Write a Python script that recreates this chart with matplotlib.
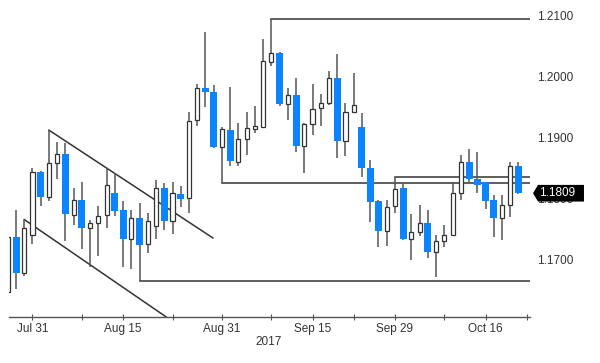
import numpy as np
import pandas as pd
import matplotlib
matplotlib.use('Agg')
import matplotlib.pyplot as plt
from matplotlib import font_manager
from matplotlib.patches import Polygon
from matplotlib.transforms import blended_transform_factory

# font: narrow sans if we have it
names = {f.name for f in font_manager.fontManager.ttflist}
font = 'Liberation Sans Narrow' if 'Liberation Sans Narrow' in names else 'Liberation Sans'
plt.rcParams['font.family'] = font

# ------------------------------------------------------------------------- #
# daily EUR/USD candles, 26 Jul - 20 Oct 2017
days = pd.bdate_range('2017-07-26', '2017-10-23')

opens = [1.1648, 1.1738, 1.1679, 1.1741, 1.1844, 1.1803, 1.1858, 1.1873, 1.1773, 1.1798,
         1.1753, 1.1760, 1.1773, 1.1809, 1.1782, 1.1735, 1.1768, 1.1726, 1.1756, 1.1817,
         1.1763, 1.1808, 1.1801, 1.1929, 1.1980, 1.1975, 1.1885, 1.1913, 1.1860, 1.1898,
         1.1914, 1.1917, 1.2024, 1.2038, 1.1955, 1.1969, 1.1886, 1.1922, 1.1948, 1.1956,
         1.1997, 1.1894, 1.1942, 1.1917, 1.1850, 1.1796, 1.1747, 1.1788, 1.1818, 1.1734,
         1.1746, 1.1760, 1.1713, 1.1731, 1.1741, 1.1810, 1.1860, 1.1832, 1.1828, 1.1798,
         1.1768, 1.1789, 1.1854]
highs = [1.1745, 1.1782, 1.1766, 1.1850, 1.1846, 1.1912, 1.1893, 1.1891, 1.1817, 1.1828,
         1.1766, 1.1788, 1.1850, 1.1842, 1.1796, 1.1782, 1.1793, 1.1776, 1.1831, 1.1826,
         1.1827, 1.1820, 1.1942, 1.1987, 1.2072, 1.1985, 1.1917, 1.1983, 1.1923, 1.1942,
         1.1952, 1.2061, 1.2093, 1.2040, 1.1980, 1.1997, 1.1923, 1.1988, 1.1971, 1.2009,
         1.2036, 1.1957, 1.2006, 1.1940, 1.1864, 1.1798, 1.1798, 1.1835, 1.1824, 1.1775,
         1.1789, 1.1782, 1.1741, 1.1757, 1.1827, 1.1871, 1.1882, 1.1877, 1.1828, 1.1806,
         1.1806, 1.1860, 1.1860]
lows = [1.1640, 1.1653, 1.1674, 1.1726, 1.1788, 1.1797, 1.1833, 1.1731, 1.1757, 1.1718,
        1.1689, 1.1707, 1.1752, 1.1772, 1.1689, 1.1685, 1.1665, 1.1712, 1.1734, 1.1749,
        1.1742, 1.1786, 1.1777, 1.1919, 1.1949, 1.1883, 1.1825, 1.1853, 1.1854, 1.1871,
        1.1907, 1.1915, 1.2017, 1.1951, 1.1929, 1.1877, 1.1842, 1.1904, 1.1918, 1.1953,
        1.1866, 1.1869, 1.1940, 1.1835, 1.1762, 1.1721, 1.1723, 1.1776, 1.1732, 1.1700,
        1.1739, 1.1703, 1.1673, 1.1721, 1.1739, 1.1798, 1.1828, 1.1809, 1.1783, 1.1738,
        1.1733, 1.1771, 1.1808]
closes = [1.1738, 1.1678, 1.1753, 1.1844, 1.1803, 1.1858, 1.1873, 1.1775, 1.1798, 1.1753,
          1.1760, 1.1772, 1.1822, 1.1780, 1.1735, 1.1768, 1.1724, 1.1764, 1.1817, 1.1763,
          1.1809, 1.1800, 1.1927, 1.1980, 1.1974, 1.1885, 1.1914, 1.1862, 1.1898, 1.1916,
          1.1919, 1.2025, 1.2038, 1.1954, 1.1969, 1.1886, 1.1922, 1.1947, 1.1957, 1.1997,
          1.1894, 1.1942, 1.1953, 1.1850, 1.1795, 1.1747, 1.1787, 1.1816, 1.1734, 1.1746,
          1.1760, 1.1713, 1.1731, 1.1741, 1.1810, 1.1860, 1.1832, 1.1822, 1.1797, 1.1768,
          1.1789, 1.1854, 1.1809]

# horizontal levels: (start day, price)
level_start = ['2017-09-08', '2017-08-31', '2017-09-29', '2017-08-17']
level_price = [1.2093, 1.1825, 1.1835, 1.1665]

# falling channel (x in trading-day index)
chan_up_x = [5, 24.9]
chan_up_y = [1.1912, 1.1736]
chan_lo_x = [2, 24]
chan_lo_y = [1.1766, 1.1563]

price_ticks = [1.17, 1.18, 1.19, 1.20, 1.21]
major_dates = ['2017-07-31', '2017-08-15', '2017-08-31', '2017-09-15', '2017-09-29', '2017-10-16']
major_labels = ['Jul 31', 'Aug 15', 'Aug 31', 'Sep 15', 'Sep 29', 'Oct 16']
minor_dates = ['2017-08-08', '2017-08-23', '2017-09-08', '2017-09-22', '2017-10-09', '2017-10-23']

# ------------------------------------------------------------------------- #
blue = '#0A84FF'
dark = '#333333'

o = np.array(opens); h = np.array(highs); l = np.array(lows); c = np.array(closes)
x = np.arange(len(o))
up = c >= o

fig = plt.figure(figsize=(6, 3.63), dpi=100)
ax = fig.add_axes([9/600, 46.3/363, 521/600, 316.7/363])

ax.vlines(x, l, h, color='#555555', lw=1.1, zorder=2)
ax.bar(x[up], (c - o)[up], bottom=o[up], width=0.5, facecolor='white',
       edgecolor=dark, lw=0.9, zorder=3)
ax.bar(x[~up], (o - c)[~up], bottom=c[~up], width=0.85, facecolor=blue,
       edgecolor='none', zorder=3)

xmax = 63.4
for d, p in zip(level_start, level_price):
    i = days.get_loc(pd.Timestamp(d))
    ax.plot([i, xmax], [p, p], color=dark, lw=1.1, zorder=1)
ax.plot(chan_up_x, chan_up_y, color=dark, lw=1.1, zorder=1)
ax.plot(chan_lo_x, chan_lo_y, color=dark, lw=1.1, zorder=1)

ax.set_xlim(0.15, xmax)
ax.set_ylim(1.16074, 1.21245)

for s in ['top', 'left', 'right']:
    ax.spines[s].set_visible(False)
ax.spines['bottom'].set_color('#555555')
ax.spines['bottom'].set_linewidth(1.0)

ax.yaxis.tick_right()
ax.set_yticks(price_ticks)
ax.set_yticklabels(['%.4f' % p for p in price_ticks])
ax.tick_params(axis='y', length=0, pad=5, labelsize=8.5, labelcolor=dark)

ax.set_xticks([days.get_loc(pd.Timestamp(d)) for d in major_dates])
ax.set_xticklabels(major_labels)
ax.set_xticks([days.get_loc(pd.Timestamp(d)) for d in minor_dates], minor=True)
ax.tick_params(axis='x', which='both', direction='inout', length=5, width=0.8,
               color='#555555', labelsize=8.5, labelcolor=dark, pad=2)
fig.text(269/600, 1 - 342/363, '2017', ha='center', va='center', fontsize=8.5, color=dark)

# last price tag
trans = blended_transform_factory(ax.transAxes, ax.transData)
last = closes[-1]
hh = 0.00136
tag = Polygon([[1.0058, last], [1.0154, last + hh], [1.1036, last + hh],
               [1.1036, last - hh], [1.0154, last - hh]], closed=True,
              transform=trans, facecolor='black', edgecolor='none', clip_on=False, zorder=10)
ax.add_patch(tag)
ax.text(1.0175, last, '%.4f' % last, transform=trans, color='white', va='center',
        ha='left', fontsize=8.5, zorder=11, clip_on=False)

fig.savefig('out.png', dpi=100)
